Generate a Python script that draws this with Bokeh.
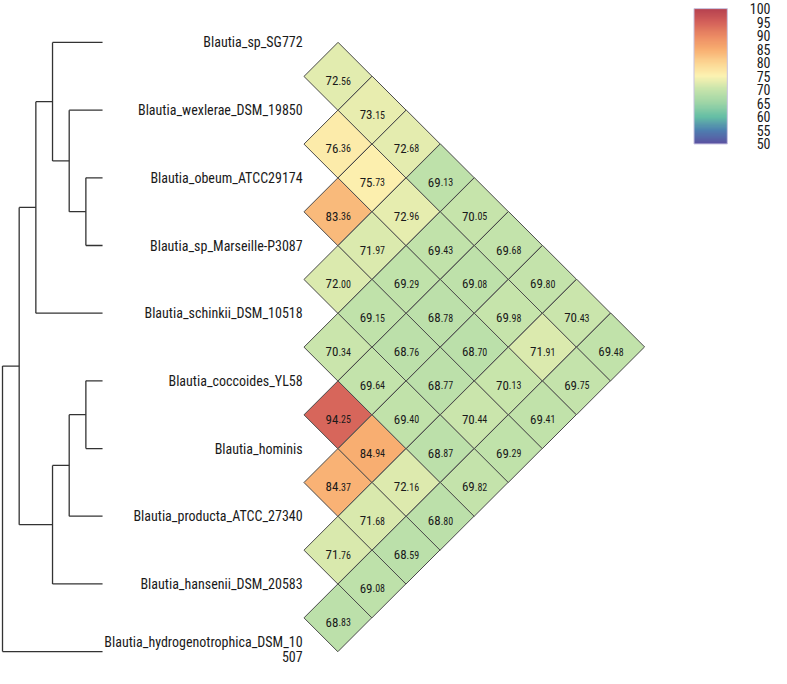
import numpy as np
from bokeh.plotting import figure
from bokeh.models import ColumnDataSource, LinearColorMapper
from bokeh.core.properties import value
from bokeh.embed import file_html
from bokeh.resources import INLINE

# ---------------- data ----------------
species = [
    "Blautia_sp_SG772",
    "Blautia_wexlerae_DSM_19850",
    "Blautia_obeum_ATCC29174",
    "Blautia_sp_Marseille-P3087",
    "Blautia_schinkii_DSM_10518",
    "Blautia_coccoides_YL58",
    "Blautia_hominis",
    "Blautia_producta_ATCC_27340",
    "Blautia_hansenii_DSM_20583",
    "Blautia_hydrogenotrophica_DSM_10507",
]

# pairwise identity (%), listed by diagonal band k = j - i (pair i, i+k)
band1 = [72.56, 76.36, 83.36, 72.00, 70.34, 94.25, 84.37, 71.76, 68.83]
band2 = [73.15, 75.73, 71.97, 69.15, 69.64, 84.94, 71.68, 69.08]
band3 = [72.68, 72.96, 69.29, 68.76, 69.40, 72.16, 68.59]
band4 = [69.13, 69.43, 68.78, 68.77, 68.87, 68.80]
band5 = [70.05, 69.08, 68.70, 70.44, 69.82]
band6 = [69.68, 69.98, 70.13, 69.29]
band7 = [69.80, 71.91, 69.41]
band8 = [70.43, 69.75]
band9 = [69.48]
bands = [band1, band2, band3, band4, band5, band6, band7, band8, band9]

# dendrogram merges: (child_a, child_b, level); leaves are 0..9, new nodes 10..
merges = [
    (2, 3, 1),
    (1, 10, 2),
    (0, 11, 3),
    (12, 4, 4),
    (5, 6, 1),
    (14, 7, 2),
    (15, 8, 3),
    (13, 16, 5),
    (17, 9, 6),
]

cbar_ticks = [100, 95, 90, 85, 80, 75, 70, 65, 60, 55, 50]
cbar_low, cbar_high = 50, 100

# colour ramp anchors (value, colour)
ramp_vals = [50, 55, 60, 65, 70, 75, 80, 85, 90, 95, 100]
ramp_cols = ["#5b52a2", "#4e80b0", "#66bfa5", "#9dd5a6", "#c6e4ab", "#fcf3b2",
             "#fcd592", "#f8ad70", "#eb8a63", "#d4605a", "#b5404f"]

# ---------------- palette ----------------
def hex2rgb(h):
    h = h.lstrip("#")
    return np.array([int(h[i:i + 2], 16) for i in (0, 2, 4)], dtype=float)

anchor_rgb = np.array([hex2rgb(c) for c in ramp_cols])
grid = np.linspace(cbar_low, cbar_high, 256)
palette = []
for g in grid:
    rgb = [np.interp(g, ramp_vals, anchor_rgb[:, c]) for c in range(3)]
    palette.append("#%02x%02x%02x" % tuple(int(round(v)) for v in rgb))
mapper = LinearColorMapper(palette=palette, low=cbar_low, high=cbar_high)

# ---------------- layout constants (units = leaf spacing) ----------------
leaf_tip_x = -3.453
level_step = 0.2446
label_x = -0.518
cbar_x0, cbar_w = 5.223, 0.489
cbar_top, cbar_h = 0.5, 2.0
cbar_label_x = 6.345
FONT = "'Liberation Sans Narrow', 'Roboto Condensed', Roboto"

p = figure(width=771, height=668, x_range=(-4.95, 6.36), y_range=(-9.25, 0.62),
           output_backend="svg", toolbar_location=None, min_border=0)
p.axis.visible = False
p.grid.visible = False
p.outline_line_color = None
p.background_fill_color = "white"

# ---------------- heatmap diamonds ----------------
cx, cy, vals, ints, decs = [], [], [], [], []
for k, band in enumerate(bands, start=1):
    for i, v in enumerate(band):
        j = i + k
        cx.append(0.5 * (k - 1))
        cy.append(-(i + j) / 2.0)
        vals.append(v)
        s = f"{v:.2f}"
        a, b = s.split(".")
        ints.append(a)
        decs.append("." + b)
src = ColumnDataSource(dict(x=cx, y=cy, v=vals, ints=ints, decs=decs))
side = 0.5 * np.sqrt(2)
p.rect(x="x", y="y", width=side, height=side, angle=np.pi / 4, source=src,
       fill_color={"field": "v", "transform": mapper},
       line_color="#4a4a4a", line_width=1)
p.text(x="x", y="y", text="ints", source=src, text_align="right",
       text_baseline="alphabetic", x_offset=0.5, y_offset=4.5,
       text_font=value(FONT), text_font_size="13px", text_color="#1a1a1a")
p.text(x="x", y="y", text="decs", source=src, text_align="left",
       text_baseline="alphabetic", x_offset=0.5, y_offset=4.5,
       text_font=value(FONT), text_font_size="10px", text_color="#1a1a1a")

# ---------------- dendrogram ----------------
node_x = {i: leaf_tip_x for i in range(len(species))}
node_y = {i: -float(i) for i in range(len(species))}
x0s, y0s, x1s, y1s = [], [], [], []
for n, (a, b, lvl) in enumerate(merges, start=len(species)):
    nx = leaf_tip_x - lvl * level_step
    ya, yb = node_y[a], node_y[b]
    x0s.append(nx); y0s.append(ya); x1s.append(nx); y1s.append(yb)
    for c in (a, b):
        x0s.append(nx); y0s.append(node_y[c]); x1s.append(node_x[c]); y1s.append(node_y[c])
    node_x[n] = nx
    node_y[n] = (ya + yb) / 2.0
p.segment(x0=x0s, y0=y0s, x1=x1s, y1=y1s, line_color="#333333", line_width=1.3)

# ---------------- species labels ----------------
def wrap(s, n=32):
    return s if len(s) <= n else s[:n] + "\n" + s[n:]

labels = [wrap(s) for s in species]
lab_src = ColumnDataSource(dict(x=[label_x] * len(species),
                                y=[-float(i) for i in range(len(species))],
                                t=labels,
                                dy=[-2.0 if "\n" in t else 0.0 for t in labels]))
p.text(x="x", y="y", text="t", source=lab_src, text_align="right",
       text_baseline="middle", y_offset="dy", text_font=value(FONT),
       text_font_size="14px", text_color="#1a1a1a", text_line_height=0.95)

# ---------------- colour bar ----------------
p.image(image=[grid.reshape(-1, 1)], x=cbar_x0, y=cbar_top - cbar_h,
        dw=cbar_w, dh=cbar_h, color_mapper=mapper)
p.rect(x=cbar_x0 + cbar_w / 2, y=cbar_top - cbar_h / 2, width=cbar_w, height=cbar_h,
       fill_color=None, line_color="#c8c4e0", line_width=1)
tick_y = [cbar_top - (cbar_high - t) / (cbar_high - cbar_low) * cbar_h for t in cbar_ticks]
p.text(x=[cbar_label_x] * len(cbar_ticks), y=tick_y, text=[str(t) for t in cbar_ticks],
       text_align="right", text_baseline="middle", text_font=value(FONT),
       text_font_size="14px", text_color="#1a1a1a")

open("out.html", "w").write(file_html(p, INLINE))
